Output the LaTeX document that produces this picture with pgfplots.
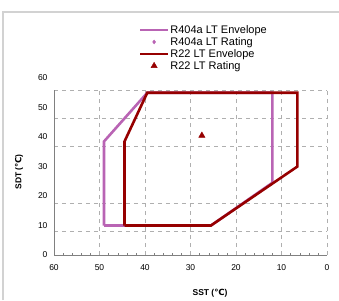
\documentclass[border=0pt]{standalone}
\usepackage{pgfplots}
\pgfplotsset{compat=1.18}
\usepackage{fontspec}
\setmainfont{Liberation Sans}
\newfontfamily\dejavu{DejaVu Sans}
\definecolor{pinkenv}{RGB}{185,100,180}
\definecolor{redenv}{RGB}{150,0,0}
\definecolor{gridgray}{RGB}{175,175,175}
\begin{document}
\begin{tikzpicture}
\path[use as bounding box] (0pt,0pt) rectangle (339pt,300pt);
\draw[gray!35, line width=1.2pt] (3pt,0pt) -- (3pt,288pt) -- (339pt,288pt);
\begin{axis}[at={(54pt,45pt)}, anchor=south west, scale only axis, width=273pt, height=177pt,
  xmin=0, xmax=60, ymin=0, ymax=60, x dir=reverse,
  axis line style={draw=none},
  xtick={0,10,...,60}, ytick={0,10,...,60},
  major tick length=0pt,
  minor x tick num=4, minor tick length=2pt,
  xtick pos=bottom, ytick pos=left,
  tick style={gray},
  tick label style={font=\fontsize{8.5}{10}\selectfont},
  xticklabel style={yshift=-6pt},
  yticklabel style={xshift=-3pt},
  /pgf/number format/assume math mode=true,
  clip=false,
  legend style={at={(0.31,1.305)}, anchor=north west, draw=none, fill=none,
    font=\fontsize{11}{12}\selectfont, row sep=0.5pt, inner sep=0pt,
    nodes={inner sep=1pt}},
  legend cell align=left,
]
\pgfplotsinvokeforeach{0,10,20,30,40,50}{
  \draw[gridgray, dash pattern=on 4pt off 4pt, line width=0.5pt] (axis cs:#1,0) -- (axis cs:#1,55.9);
}
\pgfplotsinvokeforeach{8.2,17.7,36.7,46.3,55.9}{
  \draw[gridgray, dash pattern=on 4pt off 4pt, line width=0.5pt] (axis cs:60,#1) -- (axis cs:0,#1);
}
\draw[gray, line width=0.6pt] (axis cs:60,55.9) -- (axis cs:60,0) -- (axis cs:0,0);

\addplot[pinkenv, line width=2.6pt, line join=miter,
  legend image code/.code={\draw[pinkenv, line width=2.6pt] (0pt,0pt) -- (28pt,0pt);}]
  coordinates {(49,10) (49,38.5) (39.5,55) (12,55) (12,24.5) (25.5,10) (49,10)};
\addlegendentry{R404a LT Envelope}
\addlegendimage{only marks, mark=diamond*, mark size=2pt, pinkenv,
  legend image code/.code={\draw[pinkenv, fill=pinkenv] plot[mark=diamond*, mark size=2pt] coordinates {(14pt,0pt)};}}
\addlegendentry{R404a LT Rating}
\addplot[redenv, line width=2.6pt, line join=miter,
  legend image code/.code={\draw[redenv, line width=2.6pt] (0pt,0pt) -- (28pt,0pt);}]
  coordinates {(44.5,10) (44.5,38.5) (39.5,55) (6.5,55) (6.5,30) (25.5,10) (44.5,10)};
\addlegendentry{R22 LT Envelope}
\addplot[only marks, mark=triangle*, mark size=3.6pt, redenv,
  legend image code/.code={\draw[redenv, fill=redenv] plot[mark=triangle*, mark size=3.6pt] coordinates {(14pt,0pt)};}]
  coordinates {(27.5,40.5)};
\addlegendentry{R22 LT Rating}
\end{axis}
\node[font=\fontsize{8.5}{10}\selectfont\bfseries] at (210pt,7pt) {SST ({\dejavu ℃})};
\node[font=\fontsize{8.5}{10}\selectfont\bfseries, rotate=90] at (19pt,128pt) {SDT ({\dejavu ℃})};
\end{tikzpicture}
\end{document}
